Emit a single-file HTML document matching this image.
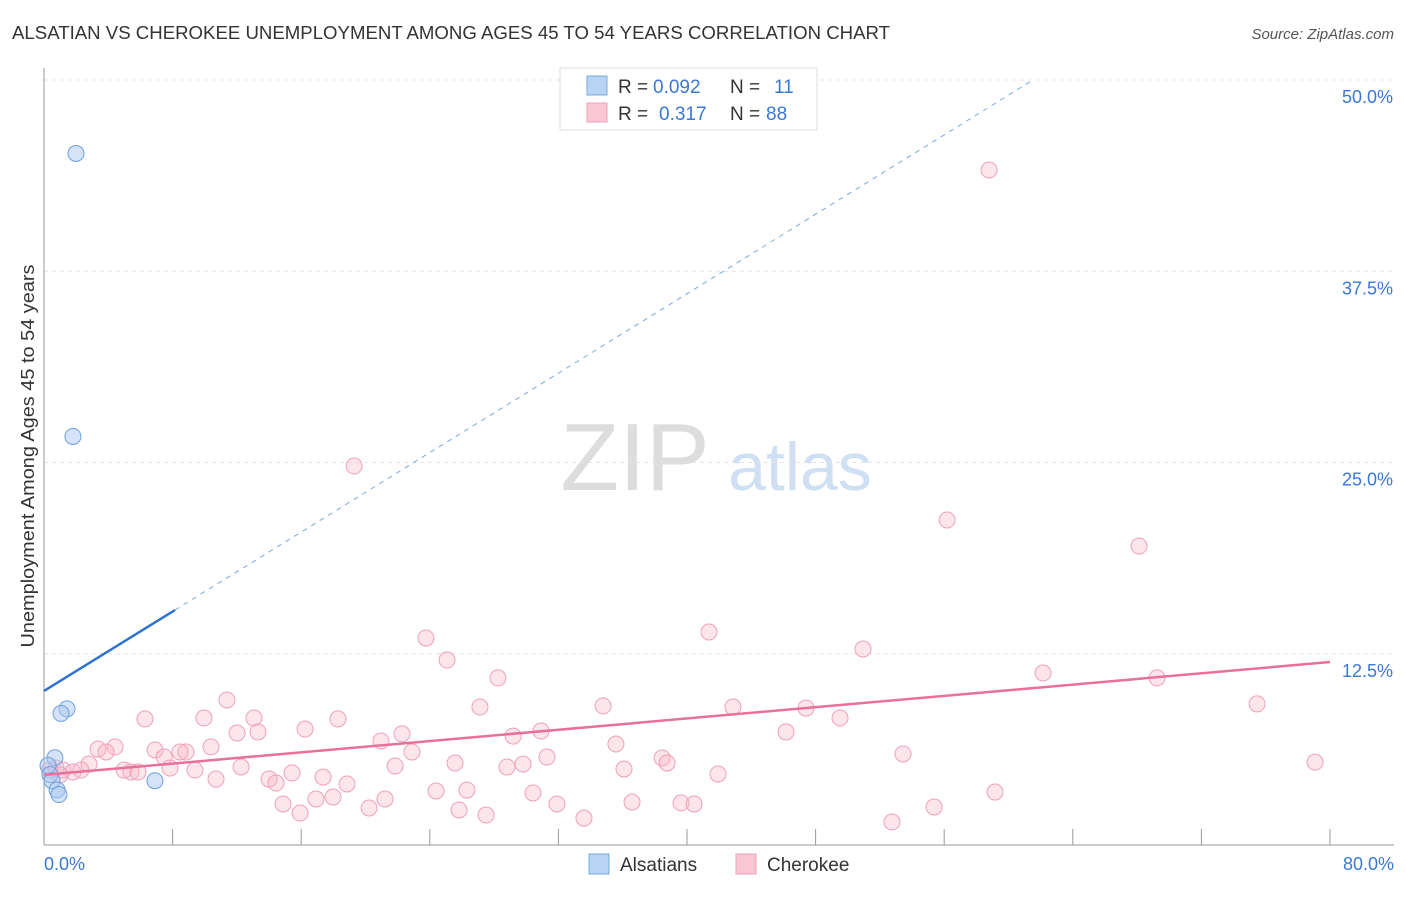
<!DOCTYPE html>
<html><head><meta charset="utf-8"><style>
body{margin:0;background:#fff;font-family:"Liberation Sans",sans-serif}
svg text{font-family:"Liberation Sans",sans-serif}
</style></head><body>
<svg id="c" width="1406" height="892" xmlns="http://www.w3.org/2000/svg">
<text x="12" y="39" font-size="18" fill="#333" textLength="878" lengthAdjust="spacingAndGlyphs">ALSATIAN VS CHEROKEE UNEMPLOYMENT AMONG AGES 45 TO 54 YEARS CORRELATION CHART</text>
<text x="1394" y="39" font-size="15" fill="#555" font-style="italic" text-anchor="end">Source: ZipAtlas.com</text>
<text x="34" y="456" font-size="18" fill="#333" text-anchor="middle" textLength="383" lengthAdjust="spacingAndGlyphs" transform="rotate(-90 34 456)">Unemployment Among Ages 45 to 54 years</text>
<g><text x="635" y="490" font-size="96" font-family="Liberation Serif" fill="#ddd" text-anchor="middle">ZIP</text><text x="800" y="490" font-size="68" fill="#cfe0f4" text-anchor="middle">atlas</text></g>
<g id="grid"></g><g id="axes"></g><g id="marks"></g>
<g>
<rect x="560" y="68" width="257" height="62" fill="#fff" stroke="#ddd"/>
<rect x="587" y="76" width="20" height="19" fill="#b8d3f4" stroke="#7aa8e0"/>
<text x="618" y="93" font-size="19" fill="#333">R = </text><text x="653" y="93" font-size="19" fill="#3a78d4">0.092</text>
<text x="730" y="93" font-size="19" fill="#333">N = </text><text x="774" y="93" font-size="19" fill="#3a78d4">11</text>
<rect x="587" y="103" width="20" height="19" fill="#f9c6d4" stroke="#f0a0b8"/>
<text x="618" y="120" font-size="19" fill="#333">R = </text><text x="659" y="120" font-size="19" fill="#3a78d4">0.317</text>
<text x="730" y="120" font-size="19" fill="#333">N = </text><text x="766" y="120" font-size="19" fill="#3a78d4">88</text>
</g>
<g>
<rect x="589" y="854" width="20" height="20" fill="#b8d3f4" stroke="#7aa8e0"/>
<text x="620" y="871" font-size="19" fill="#333">Alsatians</text>
<rect x="736" y="854" width="20" height="20" fill="#f9c6d4" stroke="#f0a0b8"/>
<text x="767" y="871" font-size="19" fill="#333">Cherokee</text>
</g>
</svg>
<script>
const yTicks=[12.5,25,37.5,50];
const yTickLabels=["12.5%","25.0%","37.5%","50.0%"];
const xTickVals=[0,8,16,24,32,40,48,56,64,72,80];
const alsX=[1.99,1.80,1.43,1.06,0.68,0.25,0.37,0.50,0.81,0.93,6.9];
const alsY=[45.2,26.7,8.9,8.6,5.7,5.2,4.6,4.2,3.6,3.3,4.2];
const cheX=[58.79,19.29,56.18,68.12,41.37,23.76,50.95,25.07,62.15,69.24,28.24,11.38,75.46,27.12,34.78,42.86,47.40,6.28,9.95,13.06,18.29,49.52,30.92,16.24,12.01,13.31,22.27,29.18,46.16,20.96,35.58,3.36,4.42,6.91,8.83,10.39,3.86,7.47,8.46,22.89,31.29,38.45,53.44,29.80,38.76,2.80,0.75,1.18,1.80,2.30,4.98,5.41,5.85,7.84,9.39,12.26,21.84,25.57,28.80,36.08,41.93,15.43,14.00,14.43,17.36,18.85,10.70,79.07,30.42,24.39,26.31,59.16,14.87,16.92,17.98,21.21,20.22,31.91,36.58,39.63,40.44,55.37,15.93,25.82,27.50,33.59,52.75,0.37,1.00];
const cheY=[44.12,24.77,21.24,19.54,13.92,13.53,12.81,12.09,11.24,10.92,10.92,9.48,9.22,9.02,9.09,9.02,8.95,8.24,8.30,8.30,8.24,8.30,7.45,7.58,7.32,7.39,7.26,7.12,7.39,6.80,6.60,6.27,6.41,6.21,6.08,6.41,6.08,5.75,6.08,6.08,5.75,5.69,5.95,5.29,5.36,5.29,5.03,4.90,4.77,4.90,4.90,4.77,4.77,5.03,4.90,5.10,5.16,5.36,5.10,4.97,4.64,4.71,4.31,4.05,4.44,3.99,4.31,5.42,3.40,3.53,3.59,3.46,2.68,3.01,3.14,3.01,2.42,2.68,2.81,2.75,2.68,2.48,2.09,2.29,1.96,1.76,1.50,4.90,4.58];
const alsTrend=[10.07,0.649];
const cheTrend=[4.58,11.96];
const NS="http://www.w3.org/2000/svg";
const xs=v=>44+v/80*1286, ys=v=>845-v/50*765;
function mk(t,a,p){const e=document.createElementNS(NS,t);for(const k in a)e.setAttribute(k,a[k]);p.appendChild(e);return e;}
const grid=document.getElementById('grid'),axes=document.getElementById('axes'),marks=document.getElementById('marks');
yTicks.forEach((v,i)=>{
 const l=mk('line',{x1:44,x2:1394,y1:ys(v),y2:ys(v),stroke:'#e4e4e4','stroke-dasharray':'4,4'},grid);
 
 
 const t=mk('text',{x:1393,y:ys(v)+23,'font-size':18,fill:'#3a78d4','text-anchor':'end'},axes);t.textContent=yTickLabels[i];
 
 
});
const ya=mk('line',{x1:44,x2:44,y1:68,y2:845,stroke:'#999'},axes);


const xa=mk('line',{x1:44,x2:1394,y1:845,y2:845,stroke:'#999'},axes);


xTickVals.forEach(v=>{const l=mk('line',{x1:xs(v),x2:xs(v),y1:829,y2:845,stroke:'#999'},axes);
 
 });
[[0,"0.0%",'start',44],[80,"80.0%",'end',1394]].forEach(d=>{const t=mk('text',{x:d[3],y:870,'font-size':18,fill:'#3a78d4','text-anchor':d[2]},axes);t.textContent=d[1];
 
 });
cheX.forEach((x,i)=>{const c=mk('circle',{cx:xs(x),cy:ys(cheY[i]),r:8,fill:'rgba(248,180,200,0.35)',stroke:'#f0a0b8','stroke-width':1},marks);
 
 });
alsX.forEach((x,i)=>{const c=mk('circle',{cx:xs(x),cy:ys(alsY[i]),r:8,fill:'rgba(170,200,240,0.5)',stroke:'#6e9fdc','stroke-width':1},marks);
 
 });
const bEnd=(50-alsTrend[0])/alsTrend[1];
const bd=mk('line',{x1:xs(8.15),y1:ys(alsTrend[0]+alsTrend[1]*8.15),x2:xs(bEnd),y2:ys(50),stroke:'#7aa8e0','stroke-dasharray':'5,5','stroke-width':1},marks);


const bs=mk('line',{x1:xs(0),y1:ys(alsTrend[0]),x2:xs(8.15),y2:ys(alsTrend[0]+alsTrend[1]*8.15),stroke:'#2f72d2','stroke-width':2.5},marks);


const pl=mk('line',{x1:xs(0),y1:ys(cheTrend[0]),x2:xs(80),y2:ys(cheTrend[1]),stroke:'#e8709a','stroke-width':2.5},marks);


</script>
</body></html>
